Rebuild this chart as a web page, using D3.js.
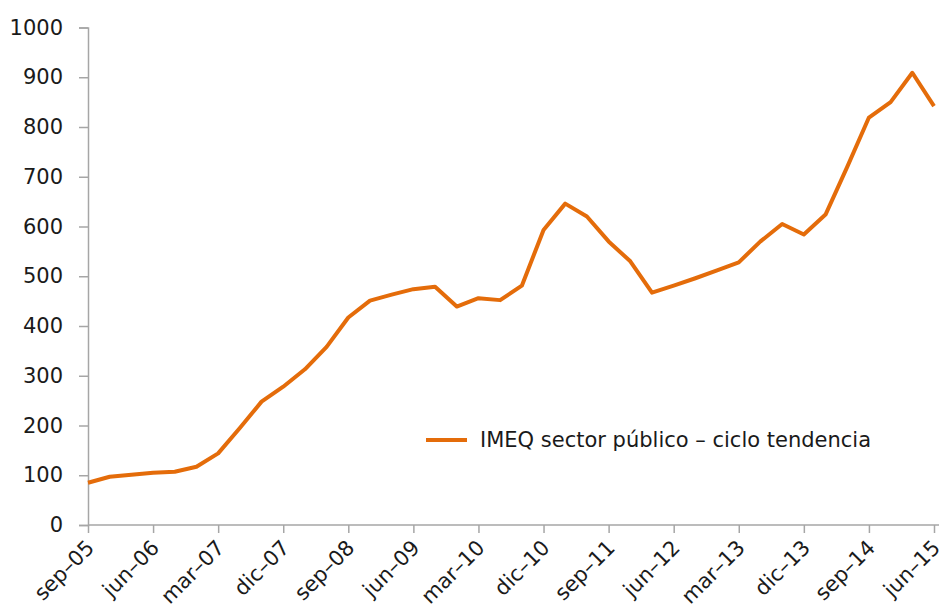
<!DOCTYPE html>
<html><head><meta charset="utf-8">
<script src="https://cdn.jsdelivr.net/npm/d3@7/dist/d3.min.js"></script>
<style>
html,body{margin:0;padding:0;background:#fff;}
svg text{font-family:"DejaVu Sans",Verdana,sans-serif;fill:#1a1a1a;}
</style></head>
<body>
<svg id="chart" width="939" height="611"></svg>
<script>
const categories = ["sep-05","dic-05","mar-06","jun-06","sep-06","dic-06","mar-07","jun-07","sep-07","dic-07",
"mar-08","jun-08","sep-08","dic-08","mar-09","jun-09","sep-09","dic-09","mar-10","jun-10",
"sep-10","dic-10","mar-11","jun-11","sep-11","dic-11","mar-12","jun-12","sep-12","dic-12",
"mar-13","jun-13","sep-13","dic-13","mar-14","jun-14","sep-14","dic-14","mar-15","jun-15"];
const values = [85,97,101,105,107,117,144,195,248,278,
313,358,417,451,463,474,479,439,456,452,
481,593,646,620,570,530,467,481,496,512,
528,570,605,584,624,720,819,850,909,842];
const tickLabels = ["sep–05","jun–06","mar–07","dic–07","sep–08","jun–09","mar–10","dic–10","sep–11","jun–12","mar–13","dic–13","sep–14","jun–15"];
const yTicks = [0,100,200,300,400,500,600,700,800,900,1000];
const seriesName = "IMEQ sector público – ciclo tendencia";

const svg = d3.select("#chart");
const x = d3.scaleLinear().domain([0, categories.length - 1]).range([88, 934]);
const y = d3.scaleLinear().domain([0, 1000]).range([525, 27.5]);
const axisColor = "#a6a6a6";

// Y axis
const yAxis = svg.append("g").attr("transform", "translate(88,0)")
  .call(d3.axisLeft(y).tickValues(yTicks).tickSize(9).tickPadding(16).tickFormat(d3.format("d")));
yAxis.select(".domain").attr("stroke", axisColor).attr("stroke-width", 1.5);
yAxis.selectAll(".tick line").attr("stroke", axisColor).attr("stroke-width", 1.5);
yAxis.selectAll("text").attr("font-size", 21).attr("fill", "#1a1a1a");

// X axis
const tickIdx = tickLabels.map((_, i) => i * 3);
const xAxis = svg.append("g").attr("transform", "translate(0,525)")
  .call(d3.axisBottom(x).tickValues(tickIdx).tickSize(8).tickSizeOuter(0).tickFormat((d, i) => tickLabels[i]));
xAxis.select(".domain").attr("d", "M88,0H939").attr("stroke", axisColor).attr("stroke-width", 1.5);
xAxis.selectAll(".tick line").attr("stroke", axisColor).attr("stroke-width", 1.5);
xAxis.selectAll("text")
  .attr("font-size", 21).attr("fill", "#1a1a1a")
  .attr("text-anchor", "end")
  .attr("dy", null).attr("y", null)
  .attr("transform", "translate(7,24) rotate(-45)");

// Line
const line = d3.line().x((d, i) => x(i)).y(d => y(d));
svg.append("path").datum(values)
  .attr("d", line)
  .attr("fill", "none")
  .attr("stroke", "#E46C0A")
  .attr("stroke-width", 4)
  .attr("stroke-linejoin", "round");

// Legend
const lg = svg.append("g").attr("transform", "translate(426,440)");
lg.append("line").attr("x1", 0).attr("x2", 41).attr("y1", 0).attr("y2", 0)
  .attr("stroke", "#E46C0A").attr("stroke-width", 4);
lg.append("text").attr("x", 54).attr("y", 7).attr("font-size", 21).text(seriesName);
</script>
</body></html>
